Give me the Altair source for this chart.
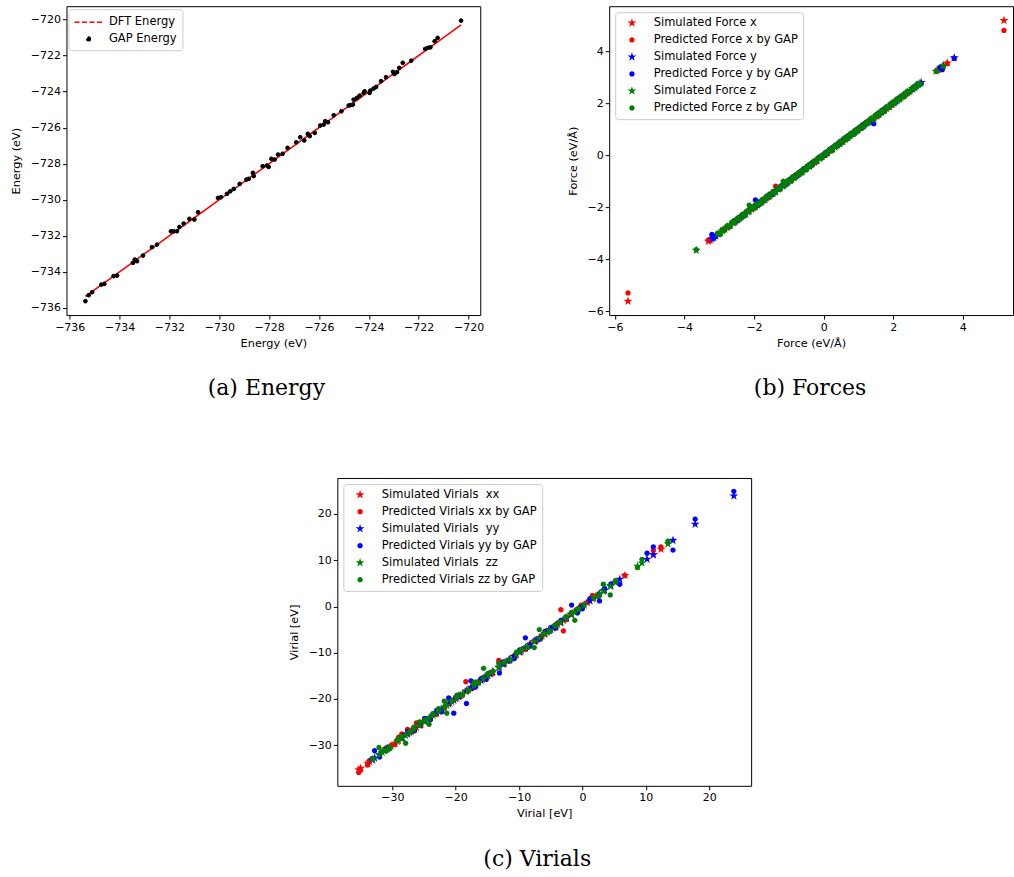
import altair as alt
import pandas as pd

# ---------------- data ----------------
# (a) energy: DFT reference energy and GAP predicted energy per configuration (eV)
dft_energy = [-735.37, -735.24, -735.10, -734.73, -734.61, -734.24, -734.10, -733.46, -733.39, -733.30,
              -733.06, -732.70, -732.50, -731.94, -731.83, -731.70, -731.60, -731.43, -731.20, -731.00,
              -730.85, -730.05, -729.93, -729.69, -729.56, -729.42, -729.18, -728.91, -728.82, -728.65,
              -728.62, -728.26, -728.09, -728.02, -727.91, -727.78, -727.64, -727.46, -727.26, -726.91,
              -726.75, -726.59, -726.45, -726.37, -726.17, -725.95, -725.81, -725.75, -725.64, -725.41,
              -725.10, -724.81, -724.74, -724.64, -724.61, -724.48, -724.37, -724.21, -724.17, -723.97,
              -723.94, -723.81, -723.71, -723.51, -723.31, -723.03, -722.97, -722.87, -722.78, -722.64,
              -722.30, -721.74, -721.63, -721.53, -721.36, -721.24, -720.30]
gap_energy = [-735.63, -735.30, -735.13, -734.71, -734.67, -734.24, -734.21, -733.50, -733.32, -733.41,
              -733.10, -732.63, -732.49, -731.75, -731.75, -731.75, -731.51, -731.32, -731.06, -731.10,
              -730.69, -729.90, -729.86, -729.67, -729.53, -729.40, -729.12, -728.88, -728.84, -728.51,
              -728.69, -728.14, -728.10, -728.18, -727.73, -727.77, -727.49, -727.45, -727.12, -726.81,
              -726.53, -726.71, -726.34, -726.47, -726.29, -725.88, -725.83, -725.64, -725.70, -725.31,
              -725.09, -724.77, -724.75, -724.72, -724.44, -724.35, -724.22, -724.07, -723.98, -724.07,
              -723.94, -723.83, -723.74, -723.42, -723.20, -722.90, -723.02, -722.92, -722.68, -722.40,
              -722.28, -721.63, -721.57, -721.54, -721.20, -721.02, -720.06]

# (b) forces (eV/A): simulated (DFT) and GAP-predicted components
force_x_dft = [-5.62, -3.31, -3.26, -2.78, -2.69, -2.53, -2.47, -2.31, -2.24, -2.08, -2.01, -1.87, -1.79,
               -1.64, -1.57, -1.46, -1.38, -1.29, -1.13, -1.07, -0.92, -0.85, -0.70, -0.63, -0.49, -0.41,
               -0.26, -0.19, -0.05, 0.03, 0.18, 0.25, 0.40, 0.47, 0.62, 0.69, 0.84, 0.91, 1.06, 1.13, 1.28,
               1.35, 1.50, 1.57, 1.72, 1.79, 1.94, 2.01, 2.16, 2.23, 2.38, 3.29, 3.55, 5.18]
force_x_gap = [-5.30, -3.27, -3.29, -2.75, -2.72, -2.51, -2.44, -2.33, -2.21, -2.10, -1.98, -1.85, -1.82,
               -1.66, -1.53, -1.49, -1.19, -1.31, -1.10, -1.05, -0.95, -0.82, -0.72, -0.60, -0.51, -0.38,
               -0.29, -0.16, -0.07, 0.06, 0.15, 0.28, 0.37, 0.50, 0.59, 0.72, 0.81, 0.94, 1.03, 1.16, 1.25,
               1.38, 1.47, 1.60, 1.69, 1.82, 1.91, 2.04, 2.13, 2.26, 2.35, 3.26, 3.52, 4.80]
force_y_dft = [-3.21, -3.16, -3.10, -2.58, -2.49, -2.36, -2.27, -2.15, -1.96, -1.90, -1.81, -1.69, -1.60,
               -1.48, -1.39, -1.26, -1.18, -1.05, -0.96, -0.84, -0.75, -0.62, -0.53, -0.41, -0.32, -0.20,
               -0.11, 0.02, 0.11, 0.23, 0.32, 0.45, 0.54, 0.66, 0.75, 0.88, 0.97, 1.09, 1.18, 1.31, 1.44,
               1.53, 1.65, 1.74, 1.87, 1.96, 2.08, 2.17, 2.30, 2.41, 2.55, 2.67, 2.80, 3.35, 3.41, 3.75]
force_y_gap = [-3.05, -3.20, -3.13, -2.55, -2.52, -2.33, -2.30, -2.12, -1.72, -1.93, -1.78, -1.72, -1.57,
               -1.51, -1.36, -1.29, -1.15, -1.08, -0.93, -0.87, -0.72, -0.65, -0.50, -0.44, -0.29, -0.23,
               -0.08, -0.01, 0.14, 0.20, 0.35, 0.42, 0.57, 0.63, 0.78, 0.85, 1.00, 1.06, 1.21, 1.28, 1.21,
               1.56, 1.62, 1.77, 1.84, 1.99, 2.05, 2.20, 2.27, 2.44, 2.52, 2.70, 2.77, 3.38, 3.29, 3.72]
force_z_dft = [-3.66, -3.04, -2.97, -2.91, -2.84, -2.76, -2.69, -2.61, -2.55, -2.47, -2.40, -2.33, -2.25,
               -2.18, -2.14, -2.06, -1.98, -1.91, -1.83, -1.76, -1.69, -1.61, -1.54, -1.46, -1.39, -1.31,
               -1.24, -1.16, -1.09, -1.02, -0.94, -0.87, -0.79, -0.72, -0.64, -0.57, -0.49, -0.42, -0.35,
               -0.27, -0.20, -0.12, -0.05, 0.03, 0.10, 0.18, 0.25, 0.32, 0.40, 0.47, 0.55, 0.62, 0.70,
               0.77, 0.85, 0.92, 0.99, 1.07, 1.14, 1.22, 1.29, 1.37, 1.44, 1.52, 1.59, 1.66, 1.74, 1.81,
               1.89, 1.96, 2.04, 2.11, 2.19, 2.26, 2.33, 2.41, 2.48, 2.56, 2.63, 2.71, 2.76, 3.23, 3.44]
force_z_gap = [-3.63, -3.00, -3.05, -2.86, -2.89, -2.71, -2.75, -2.56, -2.61, -2.42, -2.46, -2.28, -2.31,
               -2.13, -1.92, -2.01, -2.04, -1.86, -1.89, -1.71, -1.75, -1.56, -1.60, -1.41, -1.45, -1.26,
               -1.30, -1.00, -1.15, -0.97, -1.00, -0.82, -0.85, -0.67, -0.70, -0.52, -0.55, -0.37, -0.41,
               -0.22, -0.26, -0.07, -0.11, 0.08, 0.04, 0.23, 0.19, 0.37, 0.34, 0.52, 0.49, 0.67, 0.64,
               0.82, 0.79, 0.97, 0.93, 1.12, 1.08, 1.27, 1.23, 1.42, 1.38, 1.57, 1.53, 1.71, 1.68, 1.86,
               1.83, 2.01, 1.98, 2.16, 2.13, 2.31, 2.27, 2.46, 2.42, 2.61, 2.57, 2.76, 2.70, 3.22, 3.42]

# (c) virials (eV): simulated (DFT) and GAP-predicted diagonal components
virial_xx_dft = [-35.3, -35.0, -33.9, -33.6, -31.2, -30.2, -29.6, -29.0, -28.5, -27.6, -27.0, -26.2, -25.5,
                 -24.8, -24.0, -23.1, -21.8, -20.9, -20.0, -19.2, -18.4, -17.5, -16.8, -15.8, -15.0, -14.2,
                 -13.2, -12.4, -11.5, -10.6, -9.8, -9.0, -8.2, -7.3, -6.4, -5.6, -4.7, -3.9, -3.4, -3.0,
                 -2.6, -1.8, -0.9, -0.2, 0.8, 1.6, 2.4, 3.4, 6.7, 11.2, 12.4]
virial_xx_gap = [-35.9, -35.4, -34.3, -33.4, -30.8, -30.1, -29.9, -28.3, -27.6, -26.6, -27.2, -25.2, -25.8,
                 -24.5, -24.2, -23.4, -22.0, -20.3, -19.6, -19.5, -16.3, -17.8, -16.4, -15.5, -14.7, -14.6,
                 -11.7, -12.5, -11.8, -10.8, -9.5, -9.3, -8.1, -7.6, -6.6, -5.2, -4.5, -3.6, -0.7, -5.3,
                 -2.9, -1.5, -0.7, 0.3, 0.9, 2.4, 2.2, 3.6, 6.7, 12.1, 12.9]
virial_yy_dft = [-33.2, -32.8, -32.0, -30.8, -28.4, -27.6, -26.5, -25.6, -24.9, -24.0, -23.0, -22.2, -21.1,
                 -20.3, -19.5, -18.3, -17.6, -16.9, -16.0, -15.2, -14.6, -13.1, -12.5, -11.6, -10.8, -9.9,
                 -9.0, -8.3, -7.5, -6.7, -5.9, -5.0, -4.2, -3.4, -2.5, -1.7, -0.8, 0.0, 1.2, 2.7, 3.5, 4.5,
                 5.9, 10.2, 11.2, 14.3, 17.8, 23.9]
virial_yy_gap = [-33.0, -31.2, -32.6, -30.5, -28.0, -27.1, -26.9, -25.3, -24.2, -24.5, -22.5, -22.8, -19.8,
                 -23.1, -19.2, -21.0, -16.1, -17.5, -15.6, -15.8, -14.5, -14.4, -12.0, -11.8, -11.3, -9.4,
                 -6.8, -8.6, -7.3, -7.1, -5.4, -4.6, -4.7, -3.0, -2.3, 0.3, -1.4, -0.5, 1.7, 1.2, 3.9, 4.9,
                 4.8, 11.5, 12.9, 12.2, 18.9, 24.9]
virial_zz_dft = [-33.1, -32.1, -31.6, -31.0, -30.4, -29.2, -28.6, -27.9, -27.3, -26.6, -25.7, -24.9, -24.2,
                 -23.6, -22.7, -21.8, -21.4, -20.6, -19.8, -18.9, -18.0, -17.1, -16.4, -15.6, -14.9, -14.1,
                 -13.2, -12.3, -11.4, -10.4, -9.6, -8.7, -7.6, -6.8, -6.0, -5.2, -4.3, -3.5, -2.6, -1.7,
                 -1.2, -0.6, 0.3, 1.8, 2.6, 3.3, 4.4, 5.2, 8.7, 9.4, 13.5]
virial_zz_gap = [-33.0, -30.5, -31.4, -31.3, -30.8, -28.8, -28.1, -29.6, -27.2, -26.1, -25.0, -24.6, -25.5,
                 -23.2, -22.1, -20.5, -23.1, -20.4, -19.2, -19.2, -18.3, -16.4, -16.6, -13.4, -14.5, -14.0,
                 -12.3, -12.0, -11.6, -9.9, -9.3, -8.9, -8.9, -5.0, -5.9, -5.5, -4.0, -3.4, -2.2, -1.3,
                 -3.0, -0.5, 0.4, 1.9, 2.3, 4.8, 2.5, 5.6, 8.4, 10.2, 14.1]

energy_labels = ["DFT Energy", "GAP Energy"]
force_labels = ["Simulated Force x", "Predicted Force x by GAP",
                "Simulated Force y", "Predicted Force y by GAP",
                "Simulated Force z", "Predicted Force z by GAP"]
virial_labels = ["Simulated Virials \u00a0xx", "Predicted Virials xx by GAP",
                 "Simulated Virials \u00a0yy", "Predicted Virials yy by GAP",
                 "Simulated Virials \u00a0zz", "Predicted Virials zz by GAP"]
captions = ["(a)  Energy", "(b)  Forces", "(c)  Virials"]

energy_ticks = [-736, -734, -732, -730, -728, -726, -724, -722, -720]
force_ticks = [-6, -4, -2, 0, 2, 4]
virial_ticks = [-30, -20, -10, 0, 10, 20]

# ---------------- styling ----------------
FONT = "DejaVu Sans"
CAP_FONT = "DejaVu Serif"
# five-pointed star and a smaller dot, both in the [-1, 1] symbol box
STAR = ("M0,-1L0.2245,-0.309L0.951,-0.309L0.3633,0.118L0.588,0.809L0,0.382"
        "L-0.588,0.809L-0.3633,0.118L-0.951,-0.309L-0.2245,-0.309Z")
DOT = "M0.56,0A0.56,0.56,0,1,1,-0.56,0A0.56,0.56,0,1,1,0.56,0Z"
DASH_KEY = "M-2,0L2,0"   # legend key for the dashed DFT line (twice the symbol box width)
trio_colors = ["#ff0000", "#ff0000", "#0000ff", "#0000ff", "#008000", "#008000"]
trio_shapes = [STAR, DOT, STAR, DOT, STAR, DOT]
MARK_SIZE = 90
INDEP = dict(color="independent", shape="independent", size="independent")


def legend(x, y, **extra):
    base = dict(title=None, orient="none", legendX=x, legendY=y,
                labelFont=FONT, labelFontSize=11.5, labelColor="black", labelLimit=400,
                padding=5, strokeColor="#cccccc", fillColor="white", cornerRadius=3,
                rowPadding=4, symbolOffset=6, labelOffset=16)
    base.update(extra)
    return alt.Legend(**base)


def caption(text, x, y):
    return alt.Chart(pd.DataFrame({"caption": [text]})).mark_text(
        font=CAP_FONT, fontSize=22, align="center", baseline="alphabetic", color="black"
    ).encode(text="caption:N", x=alt.value(x), y=alt.value(y))


# ---------------- (a) energy ----------------
energy_df = pd.DataFrame({"dft": dft_energy, "gap": gap_energy, "series": energy_labels[1]})
e_xscale = alt.Scale(domain=[-736.13, -719.53], nice=False, zero=False)
e_yscale = alt.Scale(domain=[-736.40, -719.26], nice=False, zero=False)
e_x = alt.X("dft:Q", title="Energy (eV)", scale=e_xscale, axis=alt.Axis(values=energy_ticks))

energy_line = alt.Chart(energy_df).mark_line(color="#ff0000", strokeWidth=1.6).encode(
    x=e_x,
    y=alt.Y("dft:Q", title="Energy (eV)", scale=e_yscale, axis=alt.Axis(values=energy_ticks)),
)
e_leg = legend(2, 3, symbolFillColor="black", symbolDash=[5, 2.5], symbolStrokeWidth=1.6,
               symbolOffset=7, labelOffset=12.5, rowPadding=4)
energy_pts = alt.Chart(energy_df).mark_point(filled=False, fill="black", strokeWidth=1.0, opacity=1).encode(
    x=e_x,
    y=alt.Y("gap:Q", title="Energy (eV)", scale=e_yscale, axis=alt.Axis(values=energy_ticks)),
    color=alt.Color("series:N", scale=alt.Scale(domain=energy_labels, range=["#ff0000", "black"]), legend=e_leg),
    shape=alt.Shape("series:N", scale=alt.Scale(domain=energy_labels, range=[DASH_KEY, "circle"]), legend=e_leg),
    size=alt.Size("series:N", scale=alt.Scale(domain=energy_labels, range=[196, 14]), legend=e_leg),
)
panel_a = alt.layer(energy_line, energy_pts, caption(captions[0], 200, 389)).properties(width=414, height=309)


# ---------------- helper for (b) and (c) ----------------
def long_table(labels, pairs):
    rows = []
    for k, (dft, gap) in enumerate(pairs):
        for d in dft:
            rows.append({"sx": d, "sy": d, "series": labels[2 * k]})
        for d, g in zip(dft, gap):
            rows.append({"sx": d, "sy": g, "series": labels[2 * k + 1]})
    return pd.DataFrame(rows)


def scatter_panel(df, labels, title, xdom, ydom, ticks, cap, capx, capy, width, height):
    leg = legend(6, 6, symbolSize=MARK_SIZE)
    pts = alt.Chart(df).mark_point(filled=True, opacity=1, size=MARK_SIZE).encode(
        x=alt.X("sx:Q", title=title, scale=alt.Scale(domain=xdom, nice=False, zero=False),
                axis=alt.Axis(values=ticks)),
        y=alt.Y("sy:Q", title=title, scale=alt.Scale(domain=ydom, nice=False, zero=False),
                axis=alt.Axis(values=ticks)),
        color=alt.Color("series:N", scale=alt.Scale(domain=labels, range=trio_colors), legend=leg),
        shape=alt.Shape("series:N", scale=alt.Scale(domain=labels, range=trio_shapes), legend=leg),
    )
    return alt.layer(pts, caption(cap, capx, capy)).properties(width=width, height=height)


force_df = long_table(force_labels, [(force_x_dft, force_x_gap), (force_y_dft, force_y_gap),
                                     (force_z_dft, force_z_gap)])
virial_df = long_table(virial_labels, [(virial_xx_dft, virial_xx_gap), (virial_yy_dft, virial_yy_gap),
                                       (virial_zz_dft, virial_zz_gap)])

panel_b = scatter_panel(force_df, force_labels, "Force (eV/Å)", [-6.16, 5.44], [-6.15, 5.73],
                        force_ticks, captions[1], 201, 389, 404, 309)
panel_c = scatter_panel(virial_df, virial_labels, "Virial [eV]", [-38.68, 26.63], [-38.81, 27.79],
                        virial_ticks, captions[2], 200, 388, 414, 308)

spacer = alt.Chart(pd.DataFrame({"v": [0]})).mark_point(opacity=0).encode(
    x=alt.value(0), y=alt.value(0)
).properties(width=271, height=10, view=alt.ViewBackground(stroke=None))

top_row = alt.hconcat(panel_a, panel_b, spacing=129, bounds="flush").resolve_scale(**INDEP)
bottom_row = alt.hconcat(spacer, panel_c, spacing=0, bounds="flush").resolve_scale(**INDEP)

chart = alt.vconcat(top_row, bottom_row, spacing=472, bounds="flush").resolve_scale(
    **INDEP
).properties(
    padding={"left": 9.5, "top": 5, "right": 0, "bottom": 0},
    background="white",
).configure_view(
    stroke="black", strokeWidth=1
).configure_axis(
    domain=False, grid=False, ticks=True, tickColor="black", tickSize=4, tickWidth=1,
    labelFont=FONT, labelFontSize=11, labelColor="black", labelPadding=2,
    titleFont=FONT, titleFontSize=11.3, titleFontWeight="normal", titleColor="black",
).configure_axisX(
    titlePadding=5
).configure_axisY(
    titlePadding=8.5
)

chart.save("out.html", embed_options={"renderer": "svg", "actions": False})
